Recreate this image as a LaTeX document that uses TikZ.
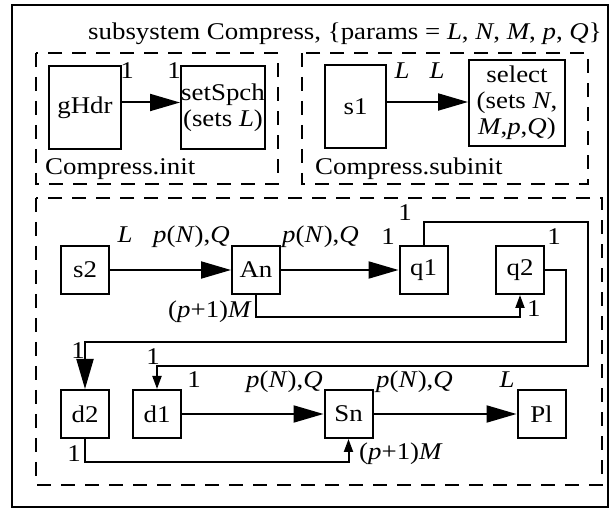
\documentclass[tikz,border=0pt]{standalone}
\usepackage{fontspec}
\setmainfont[FakeStretch=1.12]{Liberation Serif}
\usetikzlibrary{arrows.meta}
\begin{document}
\begin{tikzpicture}[x=1pt,y=-1pt,
  blk/.style={draw,line width=2pt,inner sep=0pt,align=center,font=\fontsize{24}{26}\selectfont},
  lbl/.style={inner sep=0pt,font=\fontsize{24}{26}\selectfont},
  ln/.style={line width=2pt},
  big/.style={ln,-{Triangle[length=30pt,width=17pt]}},
  sml/.style={ln,-{Triangle[length=13pt,width=9pt]}},
  dsh/.style={line width=2pt,dash pattern=on 14pt off 10pt}]
\useasboundingbox (0,0) rectangle (616,510);
% frames
\draw[ln] (12,5) rectangle (608,507);
\node[lbl,anchor=base east] (title) at (602,40) {subsystem Compress, \{params = \emph{L}, \emph{N}, \emph{M}, \emph{p}, \emph{Q}\}};
\draw[dsh] (36,53) rectangle (278,184);
\draw[dsh] (302,53) rectangle (588,184);
\draw[dsh] (36,198) rectangle (602,485);
\node[lbl,anchor=base west] (init) at (45,175) {Compress.init};
\node[lbl,anchor=base west] (subinit) at (315,175) {Compress.subinit};
% top blocks
\node[blk,minimum width=72pt,minimum height=83pt] (gHdr) at (85,107.5) {gHdr};
\node[blk,minimum width=84pt,minimum height=83pt] (setSpch) at (223,107.5) {setSpch\\(sets \emph{L})};
\node[blk,minimum width=61pt,minimum height=83pt] (s1) at (355.5,106.5) {s1};
\node[blk,minimum width=96pt,minimum height=86pt] (select) at (517,103) {select\\(sets \emph{N},\\\emph{M},\emph{p},\emph{Q})};
\draw[big] ([yshift=5pt]gHdr.east) -- ([yshift=5pt]setSpch.west);
\draw[big] ([yshift=4.5pt]s1.east) -- ([yshift=4.5pt]s1.east -| select.west);
\node[lbl] (l1) at (127,71) {1};
\node[lbl] (l2) at (174,71) {1};
\node[lbl] (l3) at (402,71) {\emph{L}};
\node[lbl] (l4) at (437,71) {\emph{L}};
% bottom blocks
\node[blk,minimum width=48pt,minimum height=48pt] (s2) at (85,270) {s2};
\node[blk,minimum width=48pt,minimum height=48pt] (An) at (256,270) {An};
\node[blk,minimum width=48pt,minimum height=48pt] (q1) at (423.5,270) {q1};
\node[blk,minimum width=48pt,minimum height=48pt] (q2) at (520,270) {q2};
\node[blk,minimum width=48pt,minimum height=48pt] (d2) at (85,414) {d2};
\node[blk,minimum width=48pt,minimum height=48pt] (d1) at (157,414) {d1};
\node[blk,minimum width=48pt,minimum height=48pt] (Sn) at (348.5,414) {Sn};
\node[blk,minimum width=48pt,minimum height=48pt] (Pl) at (541.5,414) {Pl};
\coordinate (c1) at (588,222);
\coordinate (c2) at (588,366);
\coordinate (c3) at (566,342);
\coordinate (c4) at (520,317);
\coordinate (c5) at (348.5,462);
\draw[big] (s2) -- (An);
\draw[big] (An) -- (q1);
\draw[big] (d1) -- (Sn);
\draw[big] (Sn) -- (Pl);
\draw[sml] (q1.north) |- (c1) -- (c2) -| (d1.north);
\draw[big] (q2.east) -| (c3) -| (d2.north);
\draw[sml] (An.south) |- (c4) -- (q2.south);
\draw[sml] (d2.south) |- (c5) -- (Sn.south);
% labels
\node[lbl] (m1) at (125,235) {\emph{L}};
\node[lbl,anchor=base east] (m2) at (230,243) {\emph{p}(\emph{N}),\emph{Q}};
\node[lbl,anchor=base west] (m3) at (282,243) {\emph{p}(\emph{N}),\emph{Q}};
\node[lbl,anchor=base] (m4) at (388,245) {1};
\node[lbl,anchor=base] (m5) at (405,221) {1};
\node[lbl,anchor=base] (m6) at (554,245) {1};
\node[lbl,anchor=base east] (m7) at (252,318) {(\emph{p}+1)\emph{M}};
\node[lbl,anchor=base west] (m8) at (527,317) {1};
\node[lbl,anchor=base] (m9) at (78,359) {1};
\node[lbl,anchor=base] (m10) at (153,365) {1};
\node[lbl,anchor=base] (m11) at (194,388) {1};
\node[lbl,anchor=base east] (m12) at (323,388) {\emph{p}(\emph{N}),\emph{Q}};
\node[lbl,anchor=base west] (m13) at (376,388) {\emph{p}(\emph{N}),\emph{Q}};
\node[lbl,anchor=base] (m14) at (507,388) {\emph{L}};
\node[lbl,anchor=base] (m15) at (74,462) {1};
\node[lbl,anchor=base west] (m16) at (359,460) {(\emph{p}+1)\emph{M}};
\end{tikzpicture}
\end{document}
